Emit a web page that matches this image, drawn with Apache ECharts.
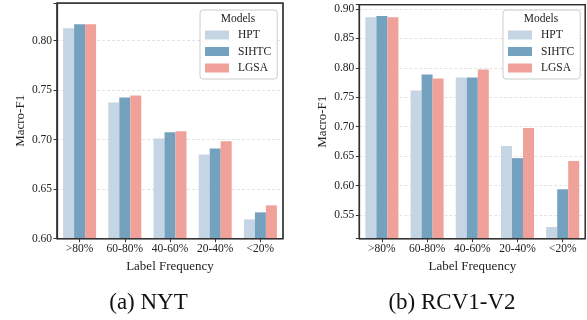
<!DOCTYPE html>
<html>
<head>
<meta charset="utf-8">
<script src="https://cdn.jsdelivr.net/npm/echarts@6/dist/echarts.min.js"></script>
<style>
  html, body { margin: 0; padding: 0; background: #fff; }
  #main { width: 587px; height: 320px; }
</style>
</head>
<body>
<div id="main"></div>
<script>
// categories + values
const categories = ['>80%', '60-80%', '40-60%', '20-40%', '<20%']
const models = ['HPT', 'SIHTC', 'LGSA']

// (a) NYT
const nytHPT = [0.8125, 0.7375, 0.7013, 0.6850, 0.6195]
const nytSIHTC = [0.8166, 0.7426, 0.7074, 0.6912, 0.6266]
const nytLGSA = [0.8166, 0.7446, 0.7084, 0.6983, 0.6337]

// (b) RCV1-V2
const rcvHPT = [0.8860, 0.7614, 0.7835, 0.6672, 0.5296]
const rcvSIHTC = [0.8880, 0.7886, 0.7835, 0.6466, 0.5937]
const rcvLGSA = [0.8860, 0.7818, 0.7971, 0.6978, 0.6418]

const colors = ['#c5d5e4', '#74a1bd', '#f0a19a']
const serif = '"Liberation Serif", "DejaVu Serif", serif'
const ink = '#222'

const chart = echarts.init(document.getElementById('main'))

const tickFmt = v => (Math.abs(v * 20 - Math.round(v * 20)) < 1e-6 ? v.toFixed(2) : '')

const xAxisOf = idx => ({
  type: 'category',
  gridIndex: idx,
  data: categories,
  name: 'Label Frequency',
  nameLocation: 'middle',
  nameGap: 16,
  nameTextStyle: { fontFamily: serif, fontSize: 13, color: ink },
  axisLine: { lineStyle: { color: '#333', width: 1.25 } },
  axisTick: { show: true, alignWithLabel: true, length: 3.5, lineStyle: { color: '#333' } },
  axisLabel: { fontFamily: serif, fontSize: 11.5, color: ink, margin: 4, interval: 0 },
  splitLine: { show: false },
})

const yAxisOf = (idx, min, max, extra) => Object.assign({
  type: 'value',
  gridIndex: idx,
  min: min,
  max: max,
  name: 'Macro-F1',
  nameLocation: 'middle',
  nameGap: 30,
  nameTextStyle: { fontFamily: serif, fontSize: 13, color: ink },
  axisLine: { show: true, lineStyle: { color: '#333', width: 1.25 } },
  axisTick: { show: true, length: 3.5, lineStyle: { color: '#333' } },
  axisLabel: { fontFamily: serif, fontSize: 11.5, color: ink, margin: 5, formatter: tickFmt },
  splitLine: {
    show: true,
    showMinLine: false,
    showMaxLine: false,
    lineStyle: { color: '#dcdcdc', type: [3, 2], width: 0.8 },
  },
}, extra)

const barsOf = (idx, lists) => lists.map((vals, i) => ({
  name: models[i],
  type: 'bar',
  xAxisIndex: idx,
  yAxisIndex: idx,
  data: vals,
  barGap: '0%',
  barCategoryGap: '27%',
  itemStyle: { color: colors[i] },
  emphasis: { disabled: true },
}))

const legendOf = left => ({
  left: left,
  top: 10,
  orient: 'vertical',
  data: models,
  itemWidth: 24,
  itemHeight: 9,
  itemGap: 2.5,
  icon: 'rect',
  padding: [18, 6, 4, 5],
  backgroundColor: 'rgba(255,255,255,0.85)',
  borderColor: '#cccccc',
  borderWidth: 1,
  borderRadius: 3,
  textStyle: { fontFamily: serif, fontSize: 11.5, color: ink, lineHeight: 14, padding: [0, 0, 0, 4] },
})

chart.setOption({
  animation: false,
  color: colors,
  grid: [
    { left: 57, top: 3, width: 226, height: 235.7, show: true, borderColor: '#333', borderWidth: 1.25, z: 3 },
    { left: 359.3, top: 4.7, width: 226, height: 234, show: true, borderColor: '#333', borderWidth: 1.25, z: 3 },
  ],
  xAxis: [xAxisOf(0), xAxisOf(1)],
  yAxis: [
    yAxisOf(0, 0.6, 0.838, { interval: 0.05 }),
    yAxisOf(1, 0.5097, 0.9073, { splitNumber: 8 }),
  ],
  legend: [legendOf(200), legendOf(503)],
  series: [
    ...barsOf(0, [nytHPT, nytSIHTC, nytLGSA]),
    ...barsOf(1, [rcvHPT, rcvSIHTC, rcvLGSA]),
  ],
  graphic: [
    // legend titles
    { type: 'text', x: 238, y: 19, z: 100, style: { text: 'Models', font: '11.5px ' + serif, fill: ink, textAlign: 'center', textVerticalAlign: 'middle' } },
    { type: 'text', x: 541, y: 19, z: 100, style: { text: 'Models', font: '11.5px ' + serif, fill: ink, textAlign: 'center', textVerticalAlign: 'middle' } },
    // outer box so the top/right edges stay solid over the gridlines
    { type: 'rect', z: 50, silent: true, shape: { x: 57, y: 3, width: 226, height: 235.7 }, style: { fill: null, stroke: '#333', lineWidth: 1.25 } },
    { type: 'rect', z: 50, silent: true, shape: { x: 359.3, y: 4.7, width: 226, height: 234 }, style: { fill: null, stroke: '#333', lineWidth: 1.25 } },
    // panel captions
    { type: 'text', x: 148.5, y: 303, style: { text: '(a) NYT', font: '23px ' + serif, fill: '#111', textAlign: 'center', textVerticalAlign: 'middle' } },
    { type: 'text', x: 452, y: 303, style: { text: '(b) RCV1-V2', font: '23px ' + serif, fill: '#111', textAlign: 'center', textVerticalAlign: 'middle' } },
  ],
})
</script>
</body>
</html>
